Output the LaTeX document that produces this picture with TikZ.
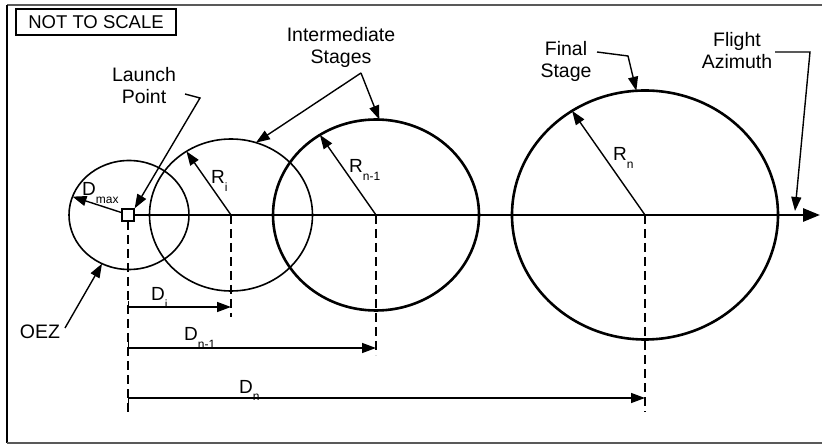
\documentclass[tikz,border=0pt]{standalone}
\usepackage{fontspec}
\setmainfont{Liberation Sans}
\usetikzlibrary{arrows.meta,shapes.geometric}
\newcommand{\sbs}[1]{\raisebox{-0.7ex}{\fontsize{12}{12}\selectfont #1}}
\begin{document}
\begin{tikzpicture}[x=1pt,y=-1pt,
  lbl/.style={font=\fontsize{19.5}{22}\selectfont, align=center, inner sep=0pt},
  sym/.style={font=\fontsize{19}{20}\selectfont, inner sep=0pt, anchor=base west},
  circ/.style={ellipse, draw, inner sep=0pt, outer sep=0pt},
  thinc/.style={circ, line width=1.6pt},
  thickc/.style={circ, line width=2.6pt},
  tip/.style={-{Triangle[length=14pt,width=10pt]}},
  lead/.style={line width=1.4pt, tip},
  rad/.style={line width=1.4pt, tip},
  dim/.style={line width=1.4pt, {Bar[width=12pt]}-{Triangle[length=14pt,width=10pt]}},
  dsh/.style={line width=1.6pt, dash pattern=on 9pt off 5pt},
]
\useasboundingbox (0,0) rectangle (822,446);
% frame
\draw[line width=2.4pt, gray!70!black] (822,5) -- (7,5);
\draw[line width=1.6pt] (7,5) -- (7,443);
\draw[line width=1.6pt, gray!70!black] (7,443) -- (822,443);
\node[draw, line width=1.5pt, minimum width=160pt, minimum height=26pt, inner sep=0pt,
      font=\fontsize{18.5}{18.5}\selectfont] (nts) at (96,22) {NOT TO SCALE};

% circles
\node[thinc, minimum width=120pt, minimum height=109pt] (oez) at (129,215) {};
\node[thinc, minimum width=163pt, minimum height=152pt] (ci) at (231,215) {};
\node[thickc, minimum width=206pt, minimum height=191pt] (cn1) at (376,215) {};
\node[thickc, minimum width=266pt, minimum height=249pt] (cn) at (645,215) {};

% dashed verticals
\coordinate (d0b) at (128,413);
\coordinate (dib) at (231,317);
\coordinate (dn1b) at (376,355);
\coordinate (dnb) at (645,412);
\draw[dsh] (128,221) -- (d0b);
\draw[dsh] (ci.center) -- (dib);
\draw[dsh] (cn1.center) -- (dn1b);
\draw[dsh] (cn.center) -- (dnb);

% radii
\draw[rad] (oez.center) -- (oez.162);
\draw[rad] (ci.center) -- (ci.125);
\draw[rad] (cn1.center) -- (cn1.125);
\draw[rad] (cn.center) -- (cn.125);

% launch point square
\node[draw, fill=white, minimum size=12pt, inner sep=0pt, line width=1.3pt] (lp) at (128,215) {};

% axis
\coordinate (az) at (820,215);
\draw[line width=2.8pt, -{Triangle[length=17pt,width=13pt]}] (lp.east) -- (az);

% dimension lines
\coordinate (di0) at (128,307);   \coordinate (di1) at (231,307);
\coordinate (dn10) at (128,348);  \coordinate (dn11) at (376,348);
\coordinate (dn0) at (128,398);   \coordinate (dn1) at (645,398);
\draw[dim] (di0) -- (di1);
\draw[dim] (dn10) -- (dn11);
\draw[dim] (dn0) -- (dn1);

% symbol labels
\node[sym] (lDmax) at (82,196) {D\sbs{max}};
\node[sym] (lRi) at (211,184) {R\sbs{i}};
\node[sym] (lRn1) at (349,173) {R\sbs{n-1}};
\node[sym] (lRn) at (613,161) {R\sbs{n}};
\node[sym] (lDi) at (151,301) {D\sbs{i}};
\node[sym] (lDn1) at (184,341) {D\sbs{n-1}};
\node[sym] (lDn) at (239,393) {D\sbs{n}};

% text labels and leaders
\node[lbl] (tlp) at (144,86) {Launch\\Point};
\coordinate (lpa) at (185,94); \coordinate (lpb) at (200,98);
\draw[lead] (lpa) -- (lpb) -- (lp.north east);

\node[lbl] (tis) at (341,47) {Intermediate\\Stages};
\coordinate (isa) at (361,73);
\draw[lead] (isa) -- (ci.71);
\draw[lead] (isa) -- (cn1.88);

\node[lbl] (tfs) at (566,61) {Final\\Stage};
\coordinate (fsa) at (597,52); \coordinate (fsb) at (628,56);
\draw[lead] (fsa) -- (fsb) -- (cn.94);

\node[lbl] (tfa) at (737,51) {Flight\\Azimuth};
\coordinate (faa) at (775,52); \coordinate (fab) at (810,52); \coordinate (fat) at (795,211);
\draw[lead] (faa) -- (fab) -- (fat);

\node[lbl] (toez) at (40,332) {OEZ};
\coordinate (oza) at (65,328);
\draw[lead] (oza) -- (oez.241);
\end{tikzpicture}
\end{document}
